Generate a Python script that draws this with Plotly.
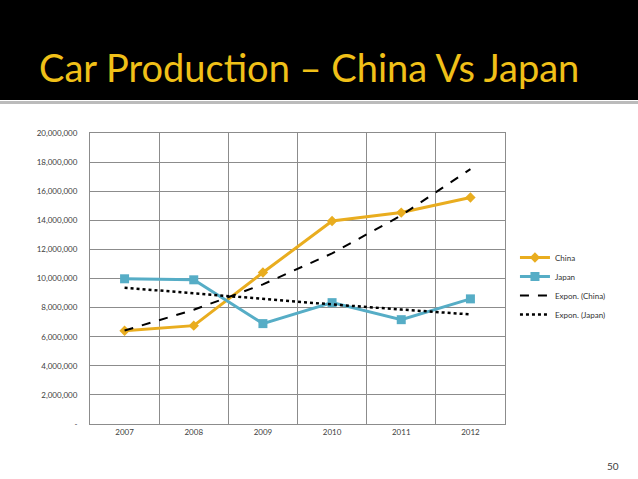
import numpy as np
import plotly.graph_objects as go

years = ["2007", "2008", "2009", "2010", "2011", "2012"]
china = [6410000, 6760000, 10410000, 13950000, 14530000, 15570000]
japan = [9980000, 9910000, 6900000, 8340000, 7170000, 8600000]
y_ticks = [0, 2000000, 4000000, 6000000, 8000000, 10000000, 12000000, 14000000, 16000000, 18000000, 20000000]
y_tick_text = ["-", "2,000,000", "4,000,000", "6,000,000", "8,000,000", "10,000,000",
               "12,000,000", "14,000,000", "16,000,000", "18,000,000", "20,000,000"]


def expon_trend(vals):
    x = np.arange(1, len(vals) + 1)
    b, a = np.polyfit(x, np.log(vals), 1)
    return list(np.exp(a + b * x))


W, H = 638, 479
L, R, T, B = 90, 133, 133, 55
PW, PH = W - L - R, H - T - B


def px_x(x):
    return (x - L) / PW


def px_y(y):
    return (H - B - y) / PH


fig = go.Figure()
fig.add_trace(go.Scatter(x=years, y=china, name="China", mode="lines+markers",
                         line=dict(color="#E9AD1F", width=3),
                         marker=dict(symbol="diamond", size=8, color="#E9AD1F")))
fig.add_trace(go.Scatter(x=years, y=japan, name="Japan", mode="lines+markers",
                         line=dict(color="#56ADC6", width=3),
                         marker=dict(symbol="square", size=9, color="#56ADC6")))
fig.add_trace(go.Scatter(x=years, y=expon_trend(china), name="Expon. (China)", mode="lines",
                         line=dict(color="black", width=2, dash="dash")))
fig.add_trace(go.Scatter(x=years, y=expon_trend(japan), name="Expon. (Japan)", mode="lines",
                         line=dict(color="black", width=2.5, dash="dot")))

fig.update_layout(
    width=W, height=H,
    margin=dict(l=L, r=R, t=T, b=B),
    paper_bgcolor="white", plot_bgcolor="white",
    font=dict(family="Lato, sans-serif", size=8, color="#404040"),
    legend=dict(x=1.024, y=0.622, xanchor="left", yanchor="top",
                font=dict(size=8, color="#333333"), tracegroupgap=0,
                itemwidth=30, bgcolor="rgba(0,0,0,0)"),
    shapes=[
        dict(type="rect", xref="paper", yref="paper", x0=px_x(-20), x1=px_x(W + 20),
             y0=px_y(100), y1=px_y(-20), fillcolor="black",
             line=dict(width=0), layer="below"),
        dict(type="line", xref="paper", yref="paper", x0=px_x(-20), x1=px_x(W + 20),
             y0=px_y(102.5), y1=px_y(102.5),
             line=dict(color="#BBBBBB", width=3)),
    ],
    annotations=[
        dict(text="Car Production – China Vs Japan", xref="paper", yref="paper",
             x=px_x(37), y=px_y(67), xanchor="left", yanchor="middle", showarrow=False,
             font=dict(family="Lato, sans-serif", size=38, color="#F0C018")),
        dict(text="50", xref="paper", yref="paper",
             x=px_x(621), y=px_y(466), xanchor="right", yanchor="middle", showarrow=False,
             font=dict(size=10, color="#404040")),
    ],
)
fig.update_xaxes(type="category", tickson="boundaries", showgrid=True, gridcolor="#8C8C8C",
                 gridwidth=1, showline=True, linecolor="#8C8C8C", linewidth=1, mirror=True,
                 ticks="", tickfont=dict(size=8), range=[-0.5, 5.5])
fig.update_yaxes(range=[0, 20000000], tickvals=y_ticks, ticktext=y_tick_text,
                 showgrid=True, gridcolor="#8C8C8C", gridwidth=1, showline=True,
                 linecolor="#8C8C8C", linewidth=1, mirror=True, zeroline=False,
                 ticks="", ticklabelstandoff=10, tickfont=dict(size=8))

fig.write_html("out.html", config={"displayModeBar": False},
               post_script="document.body.style.margin='0';document.body.style.padding='0';")
